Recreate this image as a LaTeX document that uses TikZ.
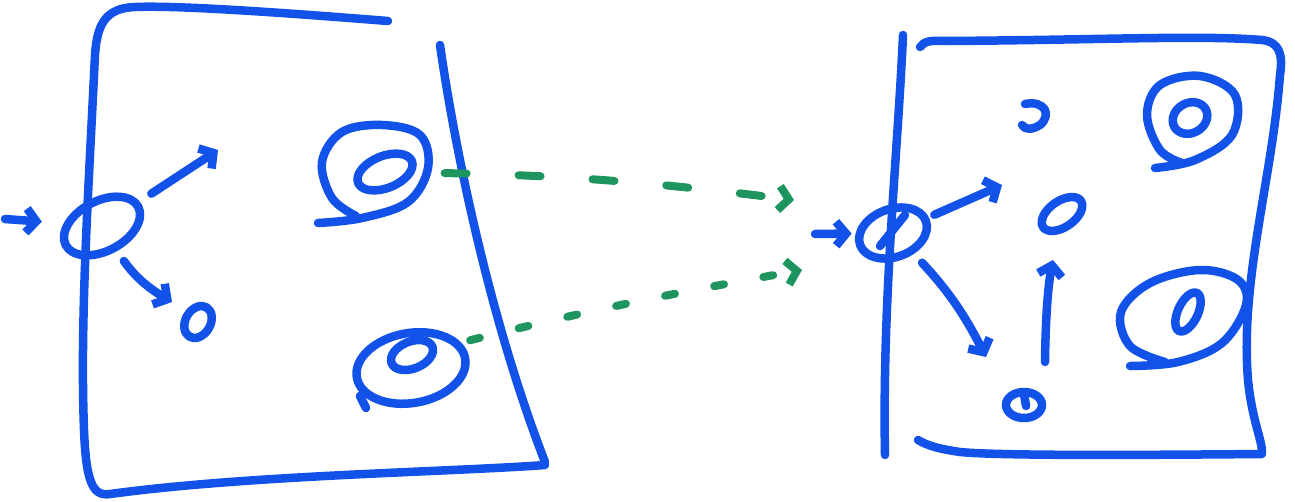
\documentclass[tikz,border=0pt]{standalone}
\usetikzlibrary{shapes.geometric, arrows.meta}

\definecolor{marker}{RGB}{18,82,232}
\definecolor{leaf}{RGB}{30,148,94}

\begin{document}
\begin{tikzpicture}[
    x=1pt, y=-1pt,
    ink/.style={draw=marker, line width=8.5pt, line cap=round, line join=round},
    ring/.style={ink, ellipse, inner sep=0pt},
    flow/.style={ink, -{Straight Barb[length=10pt, width=24pt]}},
    link/.style={draw=leaf, line width=8pt, line cap=round, -{Straight Barb[length=10pt, width=24pt]}}
]
\useasboundingbox (0,0) rectangle (1295,501);

% left sheet
\draw[ink] (388,21) .. controls (300,14) and (180,5) .. (135,7)
           .. controls (105,8) and (97,25) .. (95,55)
           .. controls (88,200) and (80,320) .. (84,430)
           .. controls (86,480) and (92,497) .. (110,494)
           .. controls (250,475) and (450,472) .. (545,465);
\draw[ink] (440,45) .. controls (455,150) and (490,320) .. (545,462);

% right sheet
\draw[ink] (903,35) .. controls (898,150) and (882,300) .. (885,455);
\draw[ink] (920,47) .. controls (924,42) and (928,40) .. (945,41)
           .. controls (1100,40) and (1200,35) .. (1262,40)
           .. controls (1280,42) and (1283,55) .. (1280,75)
           .. controls (1272,180) and (1240,280) .. (1248,380)
           .. controls (1252,420) and (1262,440) .. (1262,452);
\draw[ink] (1262,454) .. controls (1150,455) and (1000,456) .. (960,452)
           .. controls (940,449) and (928,446) .. (918,440);

% rings on the left sheet
\node[ring, minimum width=82pt, minimum height=50pt, rotate=28] (inL) at (102,226) {};
\node[ring, minimum width=34pt, minimum height=25pt, rotate=60] (outL) at (198,322) {};
\node[ring, minimum width=58pt, minimum height=32pt, rotate=22] (spA) at (385,172) {};
\node[ring, minimum width=44pt, minimum height=27pt, rotate=22] (spB) at (412,355) {};
\node[ring, minimum width=110pt, minimum height=70pt, rotate=10] (spBout) at (411,368) {};

% outer curl of the upper spiral
\draw[ink] plot[smooth, tension=0.6] coordinates {(318,223) (362,218) (408,202) (428,168)
    (420,135) (382,125) (342,132) (322,162) (332,198) (356,216)};
\draw[ink] (360,396) -- (366,408);

% rings on the right sheet
\node[ring, minimum width=70pt, minimum height=48pt, rotate=20] (inR) at (893,233) {};
\draw[ink] ([shift={(-13,13)}]inR.center) -- ([shift={(12,-18)}]inR.center);
\node[ring, minimum width=46pt, minimum height=26pt, rotate=35] (midR) at (1062,214) {};
\node[ring, minimum width=36pt, minimum height=26pt] (botR) at (1024,405) {};
\draw[ink] (1024,394) -- (1026,406);
\draw[ink] (1025,104) .. controls (1045,100) and (1052,115) .. (1040,125)
           .. controls (1032,130) and (1025,130) .. (1022,125);
\node[ring, minimum width=36pt, minimum height=30pt, rotate=30] (spC) at (1190,118) {};
\draw[ink] plot[smooth, tension=0.6] coordinates {(1155,168) (1195,160) (1232,135) (1235,95)
    (1200,76) (1160,85) (1147,115) (1160,150) (1182,163)};
\node[ring, minimum width=42pt, minimum height=20pt, rotate=65] (spD) at (1188,312) {};
\draw[ink] plot[smooth, tension=0.6] coordinates {(1130,366) (1178,362) (1222,343) (1246,305)
    (1238,280) (1200,270) (1150,283) (1121,312) (1130,346) (1165,362)};

% free ends
\coordinate (srcL) at (5,219);
\coordinate (upL) at (218,150);
\coordinate (dnL) at (172,302);
\coordinate (srcR) at (815,234);
\coordinate (upR) at (1002,185);
\coordinate (dnR) at (986,357);
\coordinate (upS) at (1045,362);
\coordinate (gA) at (794,200);
\coordinate (gB) at (802,270);

% arrows
\draw[flow, shorten >=22pt] (srcL) -- (inL);
\draw[flow, shorten <=14pt] (inL) -- (upL);
\draw[flow, shorten <=12pt] (inL) to[bend right=12] (dnL);
\draw[flow, shorten >=4pt] (srcR) -- (inR);
\draw[flow, shorten <=6pt] (inR) -- (upR);
\draw[flow, shorten <=12pt] (inR) to[bend left=8] (dnR);
\draw[flow, shorten >=26pt] (upS) to[bend left=5] (midR);

% green links between the sheets
\draw[link, dash pattern=on 22pt off 52pt, shorten <=30pt] (spA) to[bend left=3] (gA);
\draw[link, dash pattern=on 10pt off 40pt, shorten <=34pt] (spB) to[bend left=2] (gB);

\end{tikzpicture}
\end{document}
